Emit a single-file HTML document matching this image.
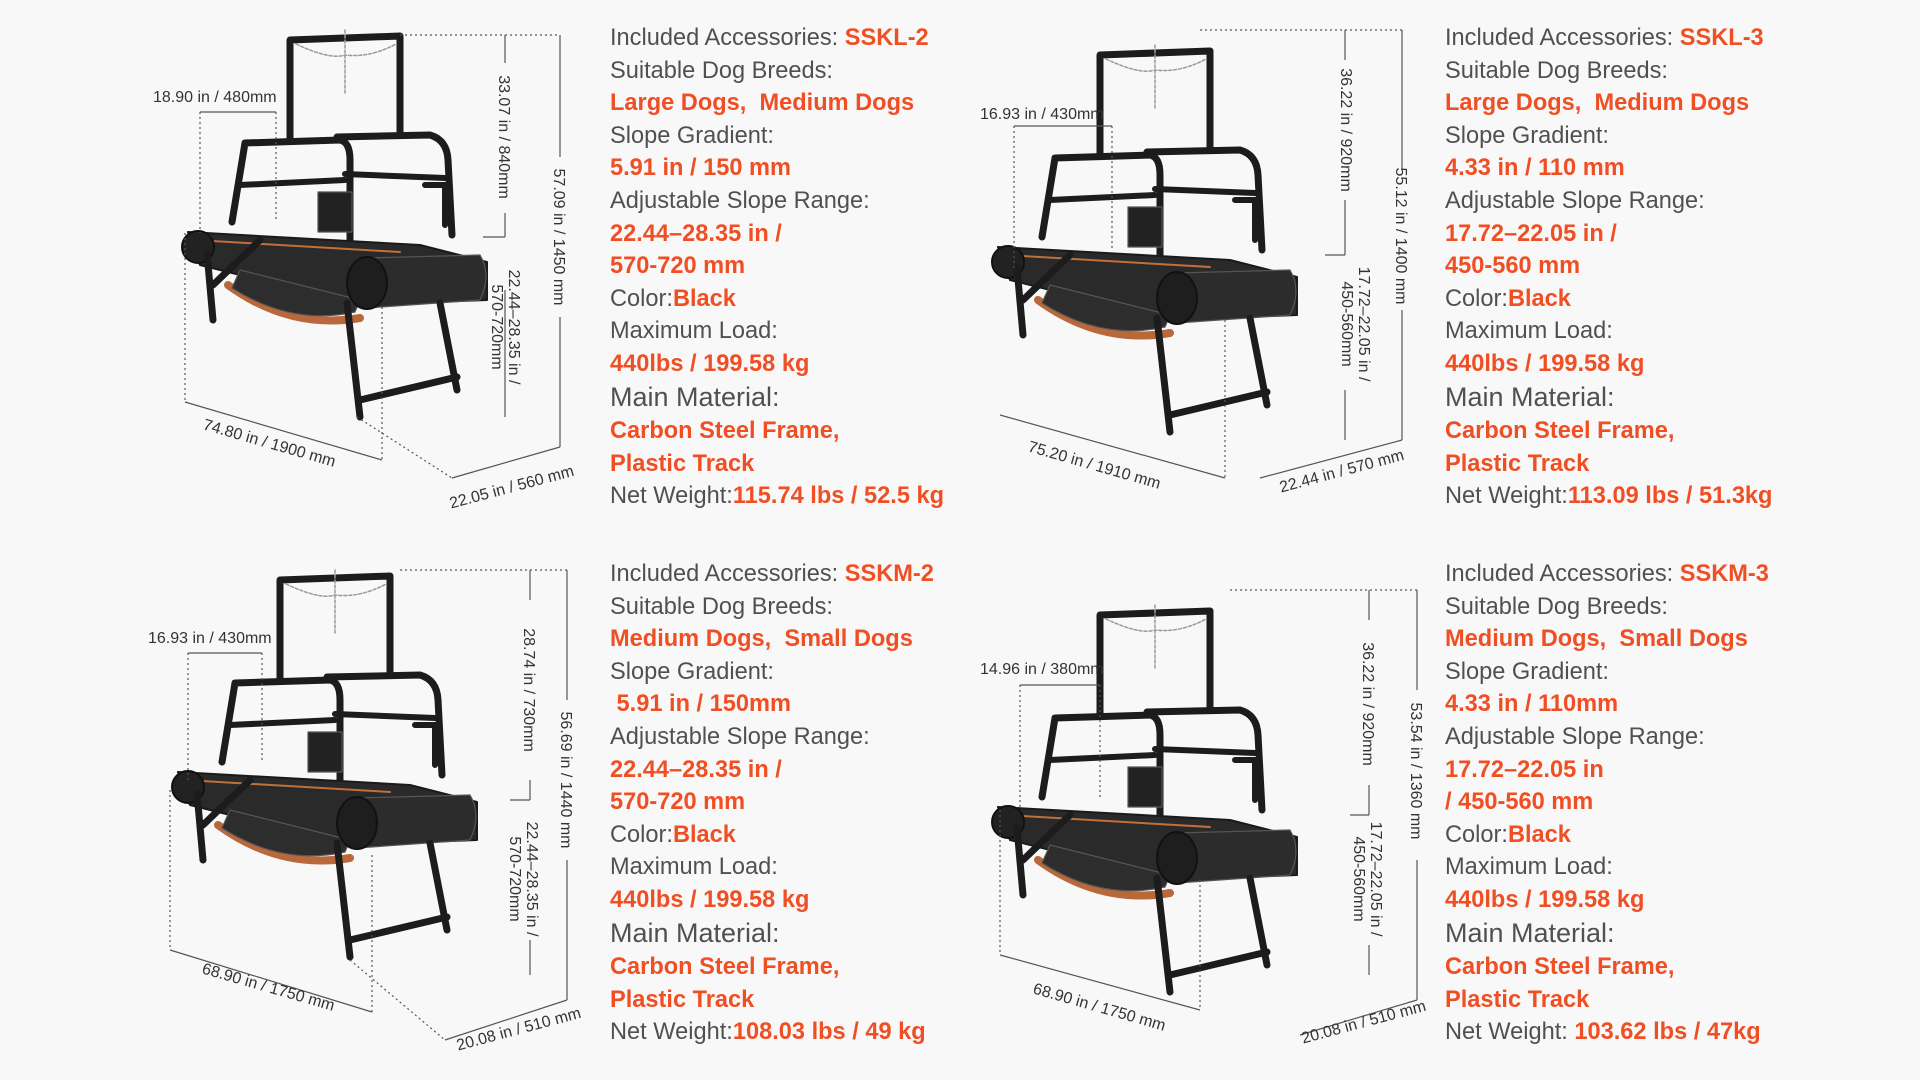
<!DOCTYPE html>
<html><head><meta charset="utf-8"><style>
body{margin:0;width:1920px;height:1080px;background:#f8f8f8;position:relative;overflow:hidden;font-family:"Liberation Sans",sans-serif}
.tb{position:absolute;font-size:23.6px;line-height:32.6px;color:#505050;white-space:nowrap}
.tb b{color:#f04e23}
.tb .big{font-size:27px}
svg{position:absolute;left:0;top:0}
.d{font-size:16px;fill:#333;font-family:"Liberation Sans",sans-serif}
</style></head><body>
<svg width="1920" height="1080">
<defs>
<g id="tm" fill="none" stroke-linecap="round" stroke-linejoin="round">
 <path d="M290 140 L290 40 L400 36 L400 132" stroke="#1c1c1c" stroke-width="7"/>
 <path d="M296 44 Q330 60 345 55 Q370 58 396 44 M345 30 L345 95" stroke="#999" stroke-width="1.5" stroke-dasharray="3 2"/>
 <path d="M232 222 L245 143 L340 140 Q350 142 350 160 L350 250" stroke="#1c1c1c" stroke-width="7"/>
 <path d="M240 185 L345 180" stroke="#1c1c1c" stroke-width="6"/>
 <path d="M337 137 L430 135 Q447 140 448 160 L452 235" stroke="#1c1c1c" stroke-width="7"/>
 <path d="M345 174 L445 178 M425 185 L445 185 L445 225" stroke="#1c1c1c" stroke-width="6"/>
 <rect x="318" y="192" width="34" height="40" fill="#222"/>
 <path d="M188 232 L420 245 L487 262 L487 300 L360 305 L200 265 Z" fill="#2a2a2a" stroke="#1a1a1a" stroke-width="2"/>
 <path d="M195 240 L400 252" stroke="#c2703a" stroke-width="2"/>
 <path d="M228 285 Q290 330 360 318" stroke="#b8683a" stroke-width="8"/>
 <path d="M232 288 Q292 326 355 312 L360 300 L240 270 Z" fill="#2d2d2d"/>
 <circle cx="198" cy="247" r="16" fill="#222" stroke="#111" stroke-width="2"/>
 <path d="M367 258 L480 255 Q492 275 480 300 L367 308 Z" fill="#2c2c2c"/>
 <ellipse cx="367" cy="283" rx="20" ry="26" fill="#1e1e1e" stroke="#111" stroke-width="2"/>
 <path d="M347 303 L360 417 M440 303 L457 390 M360 400 L457 377 M207 253 L213 320 M213 285 L260 240" stroke="#1c1c1c" stroke-width="7"/>
</g>
</defs>
<g stroke="#555" stroke-width="1.2" fill="none">
 <use href="#tm"/>
 <path d="M200 112 L276 112" /><path d="M200 112 L200 233 M276 112 L276 220 M185 233 L185 402 M382 307 L382 460 M357 417 L452 478 M400 35 L560 35" stroke-dasharray="2 3"/>
 <path d="M185 402 L382 460 M560 447 L452 478 M505 35 L505 63 M505 213 L505 237 M483 237 L505 237 M505 290 L505 417 M560 35 L560 157 M560 317 L560 447"/>
 <use href="#tm" transform="translate(810,15)"/>
 <path d="M1014 126 L1112 126 M1345 30 L1345 60 M1345 200 L1345 255 M1325 255 L1345 255 M1345 390 L1345 440 M1402 170 L1402 160 M1402 310 L1402 440 M1000 415 L1225 478 M1402 440 L1260 478 M1402 30 L1402 165"/>
 <path d="M1014 126 L1014 270 M1112 126 L1112 250 M1225 320 L1225 478 M1200 30 L1402 30" stroke-dasharray="2 3"/>
 <use href="#tm" transform="translate(-10,540)"/>
 <path d="M188 653 L262 653 M530 570 L530 600 M530 780 L530 800 M510 800 L530 800 M530 940 L530 975 M567 570 L567 700 M567 860 L567 1000 M170 950 L372 1012 M567 1000 L445 1040"/>
 <path d="M188 653 L188 780 M262 653 L262 760 M170 790 L170 950 M372 855 L372 1012 M350 960 L445 1040 M400 570 L567 570" stroke-dasharray="2 3"/>
 <use href="#tm" transform="translate(810,575)"/>
 <path d="M1020 685 L1100 685 M1369 590 L1369 620 M1369 785 L1369 815 M1350 815 L1369 815 M1369 945 L1369 975 M1417 590 L1417 690 M1417 860 L1417 1000 M1000 955 L1200 1010 M1417 1000 L1300 1035"/>
 <path d="M1020 685 L1020 810 M1100 685 L1100 800 M1000 810 L1000 955 M1200 880 L1200 1010 M1230 590 L1417 590" stroke-dasharray="2 3"/>
</g>
<g class="d">
 <text x="153" y="102">18.90 in / 480mm</text>
 <text transform="translate(499,137) rotate(90)" text-anchor="middle">33.07 in / 840mm</text>
 <text transform="translate(554,237) rotate(90)" text-anchor="middle">57.09 in / 1450 mm</text>
 <text transform="translate(509,327) rotate(90)" text-anchor="middle">22.44–28.35 in /</text>
 <text transform="translate(492,327) rotate(90)" text-anchor="middle">570-720mm</text>
 <text transform="translate(268,448) rotate(16)" text-anchor="middle">74.80 in / 1900 mm</text>
 <text transform="translate(513,492) rotate(-15)" text-anchor="middle">22.05 in / 560 mm</text>

 <text x="980" y="119">16.93 in / 430mm</text>
 <text transform="translate(1341,130) rotate(90)" text-anchor="middle">36.22 in / 920mm</text>
 <text transform="translate(1396,236) rotate(90)" text-anchor="middle">55.12 in / 1400 mm</text>
 <text transform="translate(1359,324) rotate(90)" text-anchor="middle">17.72–22.05 in /</text>
 <text transform="translate(1342,324) rotate(90)" text-anchor="middle">450-560mm</text>
 <text transform="translate(1093,470) rotate(16)" text-anchor="middle">75.20 in / 1910 mm</text>
 <text transform="translate(1343,476) rotate(-15)" text-anchor="middle">22.44 in / 570 mm</text>

 <text x="148" y="643">16.93 in / 430mm</text>
 <text transform="translate(524,690) rotate(90)" text-anchor="middle">28.74 in / 730mm</text>
 <text transform="translate(561,780) rotate(90)" text-anchor="middle">56.69 in / 1440 mm</text>
 <text transform="translate(527,879) rotate(90)" text-anchor="middle">22.44–28.35 in /</text>
 <text transform="translate(510,879) rotate(90)" text-anchor="middle">570-720mm</text>
 <text transform="translate(267,992) rotate(16)" text-anchor="middle">68.90 in / 1750 mm</text>
 <text transform="translate(520,1034) rotate(-15)" text-anchor="middle">20.08 in / 510 mm</text>

 <text x="980" y="674">14.96 in / 380mm</text>
 <text transform="translate(1363,704) rotate(90)" text-anchor="middle">36.22 in / 920mm</text>
 <text transform="translate(1411,771) rotate(90)" text-anchor="middle">53.54 in / 1360 mm</text>
 <text transform="translate(1371,879) rotate(90)" text-anchor="middle">17.72–22.05 in /</text>
 <text transform="translate(1354,879) rotate(90)" text-anchor="middle">450-560mm</text>
 <text transform="translate(1098,1012) rotate(16)" text-anchor="middle">68.90 in / 1750 mm</text>
 <text transform="translate(1365,1027) rotate(-15)" text-anchor="middle">20.08 in / 510 mm</text>
</g>
</svg>

<div class="tb" style="left:610px;top:22px">Included Accessories: <b>SSKL-2</b><br>Suitable Dog Breeds:<br><b>Large Dogs,&nbsp; Medium Dogs</b><br>Slope Gradient:<br><b>5.91 in / 150 mm</b><br>Adjustable Slope Range:<br><b>22.44–28.35 in /</b><br><b>570-720 mm</b><br>Color:<b>Black</b><br>Maximum Load:<br><b>440lbs / 199.58 kg</b><br><span class="big">Main Material:</span><br><b>Carbon Steel Frame,</b><br><b>Plastic Track</b><br>Net Weight:<b>115.74 lbs / 52.5 kg</b></div>

<div class="tb" style="left:1445px;top:22px">Included Accessories: <b>SSKL-3</b><br>Suitable Dog Breeds:<br><b>Large Dogs,&nbsp; Medium Dogs</b><br>Slope Gradient:<br><b>4.33 in / 110 mm</b><br>Adjustable Slope Range:<br><b>17.72–22.05 in /</b><br><b>450-560 mm</b><br>Color:<b>Black</b><br>Maximum Load:<br><b>440lbs / 199.58 kg</b><br><span class="big">Main Material:</span><br><b>Carbon Steel Frame,</b><br><b>Plastic Track</b><br>Net Weight:<b>113.09 lbs / 51.3kg</b></div>

<div class="tb" style="left:610px;top:558px">Included Accessories: <b>SSKM-2</b><br>Suitable Dog Breeds:<br><b>Medium Dogs,&nbsp; Small Dogs</b><br>Slope Gradient:<br><b>&nbsp;5.91 in / 150mm</b><br>Adjustable Slope Range:<br><b>22.44–28.35 in /</b><br><b>570-720 mm</b><br>Color:<b>Black</b><br>Maximum Load:<br><b>440lbs / 199.58 kg</b><br><span class="big">Main Material:</span><br><b>Carbon Steel Frame,</b><br><b>Plastic Track</b><br>Net Weight:<b>108.03 lbs / 49 kg</b></div>

<div class="tb" style="left:1445px;top:558px">Included Accessories: <b>SSKM-3</b><br>Suitable Dog Breeds:<br><b>Medium Dogs,&nbsp; Small Dogs</b><br>Slope Gradient:<br><b>4.33 in / 110mm</b><br>Adjustable Slope Range:<br><b>17.72–22.05 in</b><br><b>/ 450-560 mm</b><br>Color:<b>Black</b><br>Maximum Load:<br><b>440lbs / 199.58 kg</b><br><span class="big">Main Material:</span><br><b>Carbon Steel Frame,</b><br><b>Plastic Track</b><br>Net Weight: <b>103.62 lbs / 47kg</b></div>
</body></html>
